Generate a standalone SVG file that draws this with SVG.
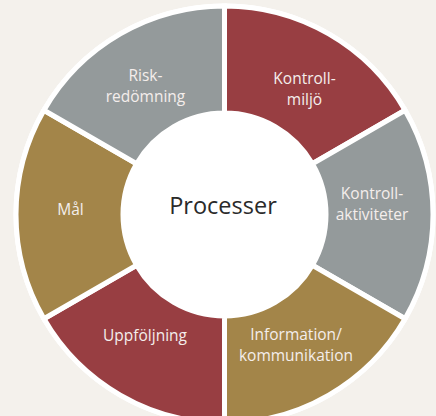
<svg xmlns="http://www.w3.org/2000/svg" width="436" height="416" viewBox="0 0 436 416">
<style>
.seg{stroke:#fff;stroke-width:5;stroke-linejoin:miter}
.red{fill:#983E42}.gray{fill:#949A9B}.gold{fill:#A38549}
.lbl{font-family:"Open Sans","Liberation Sans",sans-serif;font-size:15.5px;fill:#F4EEEC;text-anchor:middle}
.ctr{font-family:"Open Sans","Liberation Sans",sans-serif;font-size:23.5px;fill:#2A2A2A;text-anchor:middle}
</style>
<rect width="436" height="416" fill="#F4F1EC"/>
<circle cx="224.5" cy="214.5" r="211" fill="#fff"/>
<g id="kontrollmiljo">
<path class="seg red" d="M224.5 6A208.5 208.5 0 0 1 405.066 110.25L312.402 163.75A101.5 101.5 0 0 0 224.5 113Z"/>
<text class="lbl" x="304.5" y="84">Kontroll-</text>
<text class="lbl" x="304.5" y="104.5">miljö</text>
</g>
<g id="kontrollaktiviteter">
<path class="seg gray" d="M405.066 110.25A208.5 208.5 0 0 1 405.066 318.75L312.402 265.25A101.5 101.5 0 0 0 312.402 163.75Z"/>
<text class="lbl" x="372" y="198.5">Kontroll-</text>
<text class="lbl" x="372" y="220">aktiviteter</text>
</g>
<g id="information">
<path class="seg gold" d="M405.066 318.75A208.5 208.5 0 0 1 224.5 423L224.5 316A101.5 101.5 0 0 0 312.402 265.25Z"/>
<text class="lbl" x="296" y="339.5">Information/</text>
<text class="lbl" x="296" y="361">kommunikation</text>
</g>
<g id="uppfoljning">
<path class="seg red" d="M224.5 423A208.5 208.5 0 0 1 43.934 318.75L136.598 265.25A101.5 101.5 0 0 0 224.5 316Z"/>
<text class="lbl" x="145" y="341">Uppföljning</text>
</g>
<g id="mal">
<path class="seg gold" d="M43.934 318.75A208.5 208.5 0 0 1 43.934 110.25L136.598 163.75A101.5 101.5 0 0 0 136.598 265.25Z"/>
<text class="lbl" x="70.5" y="215">Mål</text>
</g>
<g id="riskbedomning">
<path class="seg gray" d="M43.934 110.25A208.5 208.5 0 0 1 224.5 6L224.5 113A101.5 101.5 0 0 0 136.598 163.75Z"/>
<text class="lbl" x="145.5" y="81">Risk-</text>
<text class="lbl" x="145.5" y="102">redömning</text>
</g>
<g id="processer">
<text class="ctr" x="223" y="214">Processer</text>
</g>
</svg>
